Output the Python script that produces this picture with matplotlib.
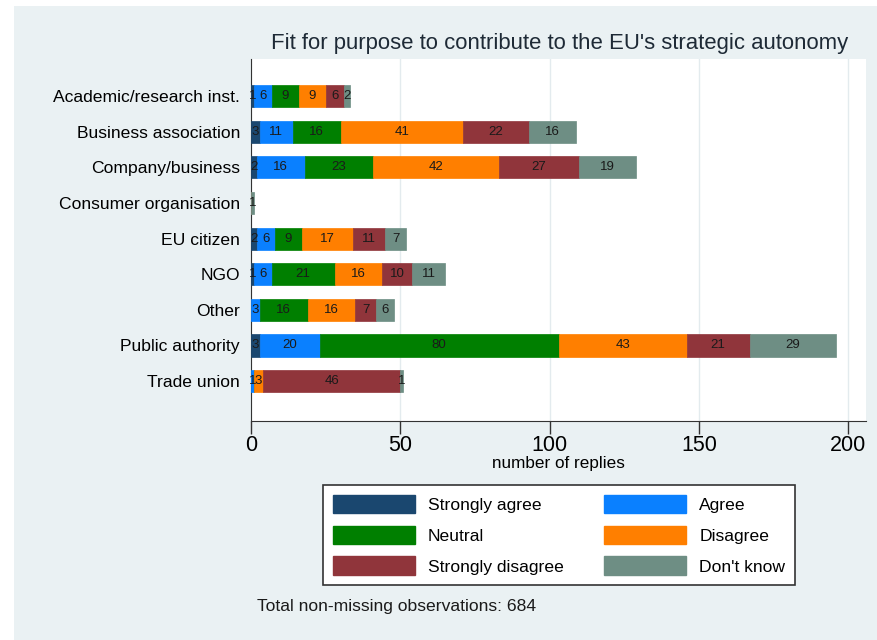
import matplotlib
matplotlib.use("Agg")
import matplotlib.pyplot as plt
from matplotlib.patches import Rectangle, Patch
import numpy as np

plt.rcParams['font.family'] = ['Liberation Sans', 'DejaVu Sans']

categories = ["Academic/research inst.", "Business association", "Company/business",
              "Consumer organisation", "EU citizen", "NGO", "Other",
              "Public authority", "Trade union"]
series_names = ["Strongly agree", "Agree", "Neutral", "Disagree",
                "Strongly disagree", "Don't know"]
strongly_agree    = [1, 3, 2, 0, 2, 1, 0, 3, 0]
agree             = [6, 11, 16, 0, 6, 6, 3, 20, 1]
neutral           = [9, 16, 23, 0, 9, 21, 16, 80, 0]
disagree          = [9, 41, 42, 0, 17, 16, 16, 43, 3]
strongly_disagree = [6, 22, 27, 0, 11, 10, 7, 21, 46]
dont_know         = [2, 16, 19, 1, 7, 11, 6, 29, 1]
x_ticks = [0, 50, 100, 150, 200]
title = "Fit for purpose to contribute to the EU's strategic autonomy"
note = "Total non-missing observations: 684"

colors = ["#1a476f", "#0a80ff", "#007f00", "#ff7f00", "#90353b", "#6e8e84"]
series = [strongly_agree, agree, neutral, disagree, strongly_disagree, dont_know]

W, H = 877, 640
fig = plt.figure(figsize=(W / 100, H / 100), dpi=100, facecolor="white")
fig.patches.append(Rectangle((14 / W, 0), 1, 1 - 6 / H, transform=fig.transFigure,
                             facecolor="#eaf1f3", edgecolor="none", zorder=-10))

ax = fig.add_axes([251 / W, 1 - 421 / H, (866 - 251) / W, (421 - 59) / H])
ax.set_facecolor("white")

y = np.arange(len(categories))
left = np.zeros(len(categories))
for name, vals, c in zip(series_names, series, colors):
    vals = np.array(vals, dtype=float)
    ax.barh(y, vals, left=left, height=0.62, color=c, edgecolor=c,
            linewidth=0.5, label=name, zorder=3)
    for yi, (l, v) in enumerate(zip(left, vals)):
        if v > 0:
            ax.text(l + v / 2, yi, f"{int(v)}", ha="center", va="center",
                    fontsize=9.5, color="#1a1a1a", zorder=4)
    left += vals

ax.set_xlim(0, 206)
ax.set_ylim(len(categories) - 1 + 1.12, -1.04)
ax.set_yticks(y)
ax.set_yticklabels(categories, fontsize=12.6)
ax.tick_params(axis="y", length=0, pad=8)
ax.set_xticks(x_ticks)
ax.set_xticklabels([str(t) for t in x_ticks], fontsize=15.5)
ax.tick_params(axis="x", length=9, width=1, color="#333333", pad=1)
ax.xaxis.grid(True, color="#e3ebee", linewidth=1, zorder=0)
ax.set_axisbelow(True)
for s in ["top", "right"]:
    ax.spines[s].set_visible(False)
ax.spines["left"].set_color("#333333")
ax.spines["bottom"].set_color("#333333")
ax.set_xlabel("number of replies", fontsize=12.3, labelpad=0)

fig.text(560 / W, 1 - 44 / H, title, ha="center", va="center", fontsize=15.9,
         color="#1e2a36")

handles = [Patch(facecolor=c, edgecolor=c) for c in colors]
order = [0, 2, 4, 1, 3, 5]
leg = fig.legend([handles[i] for i in order], [series_names[i] for i in order],
                 ncol=2, loc="upper left",
                 bbox_to_anchor=(323 / W, 1 - 485 / H), fontsize=12.6,
                 frameon=True, fancybox=False, edgecolor="#333333",
                 facecolor="white", framealpha=1,
                 handlelength=4.7, handleheight=1.25, handletextpad=0.74,
                 columnspacing=2.3, labelspacing=0.71, borderpad=0.55,
                 borderaxespad=0)
leg.get_frame().set_linewidth(1.2)

fig.text(257 / W, 1 - 607 / H, note, ha="left", va="center", fontsize=12.6,
         color="#1a1a1a")

fig.savefig("out.png", dpi=100, facecolor=fig.get_facecolor())
